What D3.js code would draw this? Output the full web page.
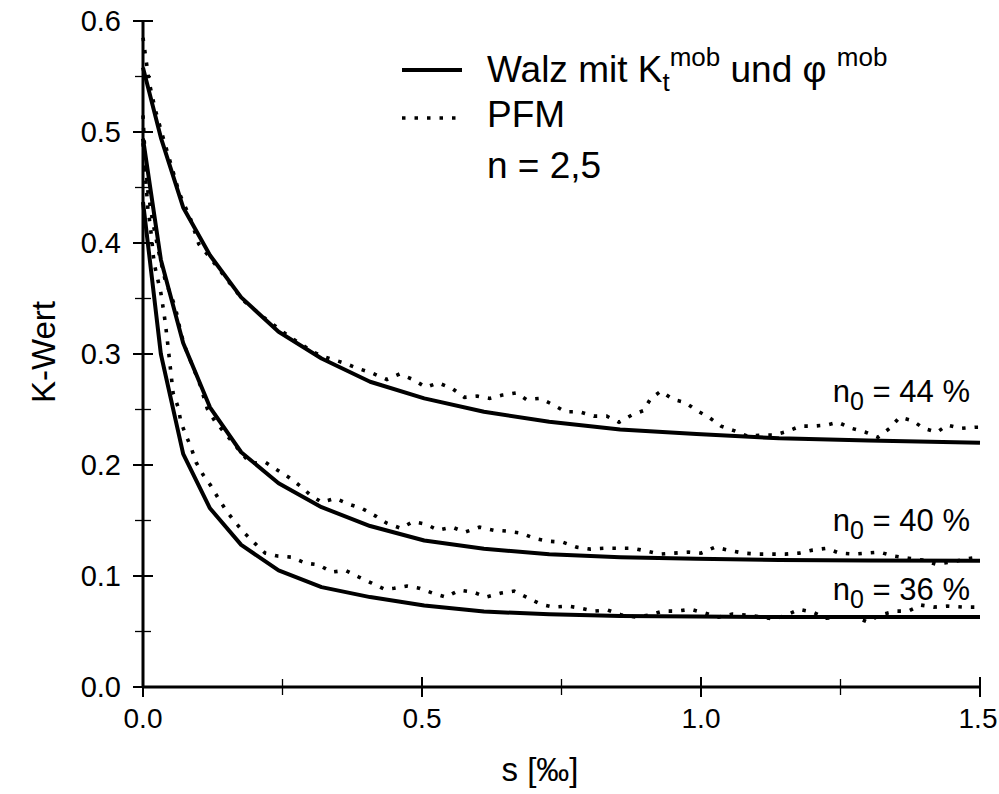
<!DOCTYPE html>
<html>
<head>
<meta charset="utf-8">
<script src="https://cdn.jsdelivr.net/npm/d3@7"></script>
<style>
  html, body { margin: 0; padding: 0; background: #fff; }
  svg { display: block; }
  text { font-family: "Liberation Sans", Arial, Helvetica, sans-serif; fill: #000; }
</style>
</head>
<body>
<svg id="chart" width="999" height="794"></svg>
<script>
// Settlement s [‰] at which the Walz solution was evaluated
const walzS  = [0, 0.032, 0.072, 0.12, 0.176, 0.243, 0.32, 0.407, 0.504, 0.611, 0.728, 0.855, 0.992, 1.14, 1.30, 1.5];
// K-values of the Walz solution for the three initial porosities
const walz44 = [0.558, 0.495, 0.432, 0.389, 0.351, 0.32, 0.296, 0.275, 0.26, 0.248, 0.239, 0.232, 0.228, 0.224, 0.222, 0.22];
const walz40 = [0.494, 0.385, 0.31, 0.252, 0.2115, 0.1836, 0.162, 0.145, 0.132, 0.1245, 0.1195, 0.117, 0.1155, 0.1145, 0.114, 0.1137];
const walz36 = [0.437, 0.30, 0.21, 0.161, 0.128, 0.105, 0.09, 0.081, 0.0735, 0.068, 0.0655, 0.064, 0.0635, 0.063, 0.063, 0.063];

// PFM results as [s, K] pairs
const pfm44 = [[0,0.585],[0.011,0.545],[0.022,0.52],[0.036,0.495],[0.05,0.471],[0.065,0.445],[0.085,0.422],[0.1,0.399],[0.12,0.387],[0.149,0.368],[0.18,0.348],[0.219,0.332],[0.264,0.315],[0.306,0.3015],[0.327,0.297],[0.36,0.292],[0.385,0.287],[0.41,0.283],[0.437,0.277],[0.46,0.282],[0.484,0.277],[0.507,0.27],[0.529,0.274],[0.554,0.269],[0.576,0.261],[0.599,0.262],[0.621,0.26],[0.644,0.263],[0.669,0.265],[0.687,0.259],[0.712,0.26],[0.736,0.254],[0.757,0.248],[0.782,0.248],[0.808,0.244],[0.831,0.244],[0.853,0.2385],[0.876,0.245],[0.897,0.249],[0.91,0.26],[0.928,0.2665],[0.95,0.259],[0.971,0.2565],[0.993,0.249],[1.014,0.243],[1.036,0.235],[1.059,0.231],[1.083,0.226],[1.108,0.227],[1.131,0.227],[1.153,0.23],[1.178,0.235],[1.201,0.235],[1.225,0.236],[1.245,0.2385],[1.27,0.233],[1.295,0.2295],[1.317,0.225],[1.338,0.233],[1.356,0.243],[1.379,0.24],[1.399,0.233],[1.423,0.2295],[1.441,0.236],[1.466,0.233],[1.491,0.234],[1.5,0.234]];
const pfm40 = [[0,0.515],[0.004,0.474],[0.009,0.4455],[0.018,0.4176],[0.029,0.39],[0.04,0.366],[0.058,0.342],[0.068,0.3186],[0.0755,0.306],[0.1025,0.272],[0.115,0.251],[0.1295,0.239],[0.147,0.2286],[0.162,0.2196],[0.192,0.2016],[0.219,0.2025],[0.239,0.196],[0.261,0.189],[0.282,0.181],[0.3,0.173],[0.32,0.1665],[0.345,0.17],[0.369,0.1647],[0.392,0.161],[0.417,0.154],[0.437,0.1476],[0.462,0.143],[0.484,0.149],[0.507,0.1467],[0.529,0.1413],[0.554,0.144],[0.577,0.1395],[0.603,0.144],[0.628,0.1413],[0.653,0.1404],[0.678,0.1386],[0.701,0.134],[0.725,0.1314],[0.752,0.1305],[0.777,0.126],[0.802,0.1242],[0.827,0.125],[0.853,0.125],[0.878,0.125],[0.903,0.1224],[0.926,0.1197],[0.951,0.1206],[0.977,0.1215],[1.0,0.1206],[1.025,0.126],[1.049,0.1233],[1.076,0.1206],[1.101,0.1197],[1.124,0.1197],[1.151,0.1197],[1.176,0.1206],[1.2,0.1233],[1.225,0.125],[1.248,0.1206],[1.275,0.1197],[1.297,0.1206],[1.32,0.1215],[1.345,0.118],[1.372,0.116],[1.397,0.1143],[1.421,0.1107],[1.448,0.1125],[1.473,0.1152],[1.5,0.117]];
const pfm36 = [[0,0.49],[0.009,0.429],[0.0126,0.4176],[0.016,0.402],[0.018,0.39],[0.0216,0.378],[0.027,0.366],[0.032,0.355],[0.036,0.342],[0.04,0.328],[0.043,0.315],[0.046,0.3015],[0.054,0.2646],[0.063,0.252],[0.068,0.2385],[0.077,0.2268],[0.086,0.216],[0.095,0.2025],[0.108,0.191],[0.122,0.181],[0.135,0.17],[0.149,0.159],[0.165,0.1485],[0.182,0.1386],[0.2,0.1296],[0.219,0.1206],[0.241,0.118],[0.266,0.117],[0.291,0.1116],[0.315,0.11],[0.338,0.1035],[0.363,0.105],[0.387,0.099],[0.41,0.0936],[0.433,0.088],[0.45,0.089],[0.473,0.091],[0.495,0.089],[0.519,0.0846],[0.543,0.081],[0.567,0.0873],[0.592,0.0855],[0.615,0.081],[0.642,0.0846],[0.665,0.0864],[0.687,0.081],[0.712,0.0747],[0.736,0.072],[0.761,0.0729],[0.784,0.0711],[0.808,0.0684],[0.833,0.0693],[0.858,0.0648],[0.883,0.063],[0.908,0.0648],[0.932,0.0684],[0.957,0.0684],[0.982,0.07],[1.007,0.0666],[1.032,0.063],[1.056,0.0657],[1.083,0.0648],[1.108,0.063],[1.131,0.0612],[1.153,0.0648],[1.176,0.07],[1.2,0.0675],[1.225,0.062],[1.248,0.063],[1.277,0.063],[1.299,0.0585],[1.32,0.0648],[1.349,0.0684],[1.372,0.0684],[1.394,0.0738],[1.417,0.072],[1.441,0.0729],[1.47,0.072],[1.5,0.072]];

// Axis ticks
const xMajor = [0, 0.5, 1.0, 1.5];
const xMinor = [0.25, 0.75, 1.25];
const yMajor = [0, 0.1, 0.2, 0.3, 0.4, 0.5, 0.6];
const yMinor = [0.05, 0.15, 0.25, 0.35, 0.45, 0.55];

// Initial porosity n0 [%] of each curve pair
const porosities = ["44", "40", "36"];

const svg = d3.select("#chart");
const x = d3.scaleLinear().domain([0, 1.5]).range([143, 980]);
const y = d3.scaleLinear().domain([0, 0.6]).range([687, 21]);

// Axis lines
svg.append("line").attr("x1", x(0)).attr("x2", x(1.5)).attr("y1", y(0)).attr("y2", y(0))
  .attr("stroke", "#000").attr("stroke-width", 3);
svg.append("line").attr("x1", x(0)).attr("x2", x(0)).attr("y1", y(0)).attr("y2", y(0.6))
  .attr("stroke", "#000").attr("stroke-width", 3);

// Ticks crossing the axes
svg.selectAll(".xmaj").data(xMajor).join("line")
  .attr("x1", d => x(d)).attr("x2", d => x(d)).attr("y1", y(0) - 10).attr("y2", y(0) + 10)
  .attr("stroke", "#000").attr("stroke-width", 2);
svg.selectAll(".xmin").data(xMinor).join("line")
  .attr("x1", d => x(d)).attr("x2", d => x(d)).attr("y1", y(0) - 8).attr("y2", y(0) + 8)
  .attr("stroke", "#000").attr("stroke-width", 1.3);
svg.selectAll(".ymaj").data(yMajor).join("line")
  .attr("x1", x(0) - 10).attr("x2", x(0) + 10).attr("y1", d => y(d)).attr("y2", d => y(d))
  .attr("stroke", "#000").attr("stroke-width", 2);
svg.selectAll(".ymin").data(yMinor).join("line")
  .attr("x1", x(0) - 8).attr("x2", x(0) + 8).attr("y1", d => y(d)).attr("y2", d => y(d))
  .attr("stroke", "#000").attr("stroke-width", 1.3);

// Tick labels
svg.selectAll(".xl").data(xMajor).join("text")
  .attr("x", d => x(d) - (d === 1.5 ? 2 : 0)).attr("y", y(0) + 41).attr("text-anchor", "middle")
  .attr("font-size", 28).text(d => d.toFixed(1));
svg.selectAll(".yl").data(yMajor).join("text")
  .attr("x", x(0) - 22).attr("y", d => y(d) + 10).attr("text-anchor", "end")
  .attr("font-size", 29).text(d => d.toFixed(1));

// Axis titles
svg.append("text").attr("x", 540).attr("y", 781).attr("text-anchor", "middle")
  .attr("font-size", 33).text("s [‰]");
svg.append("text").attr("transform", "translate(55,352) rotate(-90)").attr("text-anchor", "middle")
  .attr("font-size", 33).text("K-Wert");

// Curves
const line = d3.line().x(d => x(d[0])).y(d => y(d[1]));
[walz44, walz40, walz36].forEach(vals => {
  svg.append("path").datum(walzS.map((s, i) => [s, vals[i]]))
    .attr("d", line).attr("fill", "none").attr("stroke", "#000")
    .attr("stroke-width", 4).attr("stroke-linejoin", "round");
});
[pfm44, pfm40, pfm36].forEach(pts => {
  svg.append("path").datum(pts)
    .attr("d", line).attr("fill", "none").attr("stroke", "#000")
    .attr("stroke-width", 3.6).attr("stroke-dasharray", "3.5 9");
});

// Curve labels n0 = ... (baselines in px, right-aligned near the end of the curves)
const labelBaselines = [402, 531, 600];
porosities.forEach((p, i) => {
  const t = svg.append("text").attr("x", 970).attr("y", labelBaselines[i])
    .attr("text-anchor", "end").attr("font-size", 31);
  t.append("tspan").text("n");
  t.append("tspan").attr("dy", 8).attr("font-size", 25).text("0");
  t.append("tspan").attr("dy", -8).text(" = " + p + " %");
});

// Legend
const lg = svg.append("g");
lg.append("line").attr("x1", 402).attr("x2", 462).attr("y1", 70).attr("y2", 70)
  .attr("stroke", "#000").attr("stroke-width", 4);
lg.append("line").attr("x1", 402).attr("x2", 462).attr("y1", 118).attr("y2", 118)
  .attr("stroke", "#000").attr("stroke-width", 3.6).attr("stroke-dasharray", "3.5 9");
const t1 = lg.append("text").attr("x", 487).attr("y", 82).attr("font-size", 37);
t1.append("tspan").text("Walz mit K");
t1.append("tspan").attr("dy", 9).attr("font-size", 26).text("t");
t1.append("tspan").attr("dy", -25).attr("font-size", 26).text("mob");
t1.append("tspan").attr("dy", 16).text(" und φ ");
t1.append("tspan").attr("dy", -16).attr("font-size", 26).text("mob");
lg.append("text").attr("x", 487).attr("y", 127).attr("font-size", 37).text("PFM");
lg.append("text").attr("x", 487).attr("y", 178).attr("font-size", 37).text("n = 2,5");
</script>
</body>
</html>
